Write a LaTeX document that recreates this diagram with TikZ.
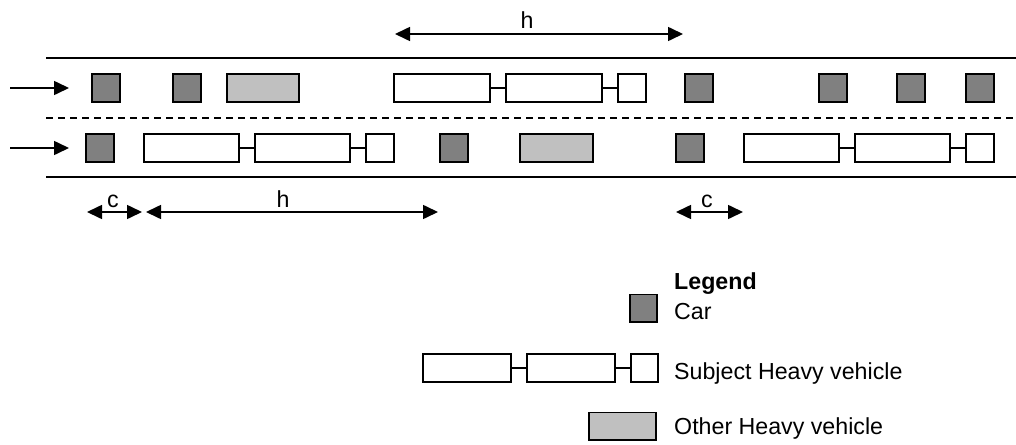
\documentclass[tikz,border=0pt]{standalone}
\usepackage{fontspec}
\setmainfont{Liberation Sans}
\usetikzlibrary{arrows.meta}
\definecolor{carfill}{HTML}{808080}
\definecolor{hvfill}{HTML}{C0C0C0}
\tikzset{
  road/.style={line width=1.6pt},
  lanediv/.style={line width=1.6pt, dash pattern=on 7pt off 5pt},
  carbox/.style={draw, fill=carfill, line width=1.6pt, inner sep=0pt, outer sep=0pt, anchor=west},
  otherhv/.style={draw, fill=hvfill, line width=1.6pt, inner sep=0pt, outer sep=0pt, anchor=west},
  hvbox/.style={draw, fill=white, line width=1.6pt, inner sep=0pt, outer sep=0pt, anchor=west},
  hvlink/.style={line width=1.6pt},
  flow/.style={line width=1.6pt, -{Triangle[length=15pt,width=14pt]}},
  dim/.style={line width=1.6pt, {Triangle[length=15pt,width=14pt]}-{Triangle[length=15pt,width=14pt]}},
  lbl/.style={inner sep=0pt, anchor=base},
  legtext/.style={inner sep=0pt, anchor=base west},
}
% car: name, xleft, ycenter, size
\newcommand{\mycar}[4]{\node[carbox, minimum width=#4-1.6, minimum height=#4-1.6] (#1) at (#2+0.8,#3) {};}
% other heavy vehicle: name, xleft, ycenter, width, height
\newcommand{\myohv}[5]{\node[otherhv, minimum width=#4-1.6, minimum height=#5-1.6] (#1) at (#2+0.8,#3) {};}
% subject heavy vehicle: prefix, xleft, ycenter, long, short, height, gap
\newcommand{\mytruck}[7]{%
  \node[hvbox, minimum width=#4-1.6, minimum height=#6-1.6] (#1a) at (#2+0.8,#3) {};
  \node[hvbox, minimum width=#4-1.6, minimum height=#6-1.6] (#1b) at ([xshift=#7+1.6]#1a.east) {};
  \node[hvbox, minimum width=#5-1.6, minimum height=#6-1.6] (#1c) at ([xshift=#7+1.6]#1b.east) {};
  \draw[hvlink] (#1a.east) -- (#1b.west);
  \draw[hvlink] (#1b.east) -- (#1c.west);
}
\begin{document}
\begin{tikzpicture}[x=1pt,y=-1pt]
\fontsize{23.2}{28}\selectfont
\useasboundingbox (0,0) rectangle (1016,444);
% road
\coordinate (rt1) at (46,58);  \coordinate (rt2) at (1016,58);
\coordinate (rm1) at (46,118); \coordinate (rm2) at (1016,118);
\coordinate (rb1) at (46,177); \coordinate (rb2) at (1016,177);
\draw[road] (rt1) -- (rt2);
\draw[lanediv] (rm1) -- (rm2);
\draw[road] (rb1) -- (rb2);
% flow arrows
\coordinate (f1s) at (10,88);  \coordinate (f1e) at (69,88);
\coordinate (f2s) at (10,148); \coordinate (f2e) at (69,148);
\draw[flow] (f1s) -- (f1e);
\draw[flow] (f2s) -- (f2e);
% lane 1
\mycar{l1c1}{91}{88}{30}
\mycar{l1c2}{172}{88}{30}
\myohv{l1o1}{226}{88}{74}{30}
\mytruck{l1t}{393}{88}{98}{30}{30}{14}
\mycar{l1c3}{684}{88}{30}
\mycar{l1c4}{818}{88}{30}
\mycar{l1c5}{896}{88}{30}
\mycar{l1c6}{965}{88}{30}
% lane 2
\mycar{l2c1}{85}{148}{30}
\mytruck{l2t}{143}{148}{97}{30}{30}{14}
\mycar{l2c2}{439}{148}{30}
\myohv{l2o1}{519}{148}{75}{30}
\mycar{l2c3}{675}{148}{30}
\mytruck{l2u}{743}{148}{97}{30}{30}{14}
% dimensions
\coordinate (ht1) at (395,34); \coordinate (ht2) at (683,34);
\draw[dim] (ht1) -- (ht2);
\node[lbl] (htl) at (527,29) {h};
\coordinate (c11) at (87,212); \coordinate (c12) at (142,212);
\draw[dim] (c11) -- (c12);
\node[lbl] (c1l) at (113,207) {c};
\coordinate (hb1) at (146,212); \coordinate (hb2) at (438,212);
\draw[dim] (hb1) -- (hb2);
\node[lbl] (hbl) at (283,207) {h};
\coordinate (c21) at (676,212); \coordinate (c22) at (743,212);
\draw[dim] (c21) -- (c22);
\node[lbl] (c2l) at (707,207) {c};
% legend
\node[legtext, font=\bfseries] (legt) at (674,289) {Legend};
\mycar{lgc}{629}{308}{29}
\node[legtext] (lgct) at (674,319) {Car};
\mytruck{lgt}{422}{368}{90}{29}{30}{14}
\node[legtext] (lgtt) at (674,379) {Subject Heavy vehicle};
\myohv{lgo}{588}{426}{69}{29}
\node[legtext] (lgot) at (674,434) {Other Heavy vehicle};
\end{tikzpicture}
\end{document}
